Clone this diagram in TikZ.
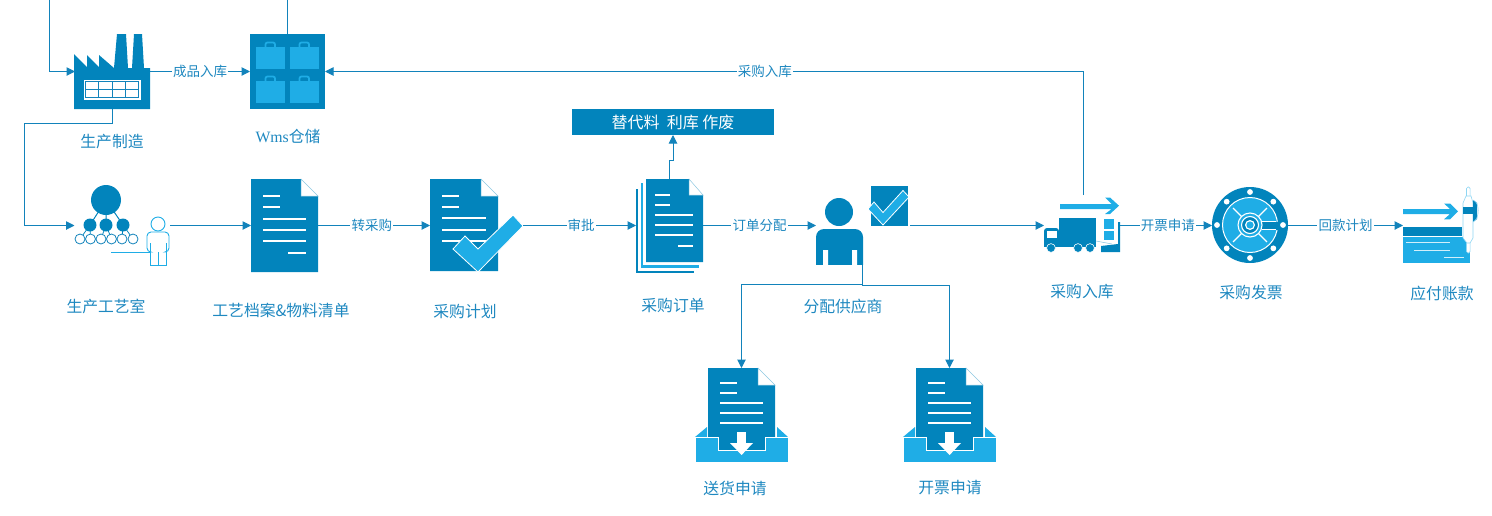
\documentclass[tikz,border=0pt]{standalone}
\usepackage{fontspec}
\setmainfont{Noto Sans CJK SC}
\newfontfamily\wmsfont{Liberation Serif}
\usetikzlibrary{arrows.meta}
\definecolor{dk}{HTML}{0284BC}
\definecolor{lt}{HTML}{1FADE6}
\definecolor{ln}{HTML}{1283BB}
\definecolor{tx}{HTML}{1E88C0}
\tikzset{
  x=1pt,y=-1pt,
  conn/.style={draw=ln,line width=1pt,-{Triangle[length=8.5pt,width=8.5pt]}},
  plainline/.style={draw=ln,line width=1pt},
  anchorbox/.style={inner sep=0pt,outer sep=0pt,minimum width=#1},
  captext/.style={text=tx,font=\fontsize{15.8}{18}\selectfont,inner sep=0pt},
  elab/.style={text=tx,font=\fontsize{13.5}{15}\selectfont,fill=white,inner sep=1.2pt},
  wl/.style={draw=white,line width=1.6pt},
  chk/.style={fill=lt,draw=white,line width=.8pt,line join=miter}
}
\newcommand{\sheet}[6]{
  \fill[dk] (#1,#2) -- (#5,#2) -- (#5,#6) -- (#3,#6) -- (#3,#4) -- (#1,#4) -- cycle;
  \draw[draw=dk!45,line width=.5pt,fill=white] (#5,#2) -- (#3,#6) -- (#5,#6) -- cycle;
}
\newcommand{\inbox}[1]{
\begin{scope}[xshift=#1pt]
  \fill[lt] (695,437) -- (707,427) -- (707,437) -- cycle;
  \fill[lt] (777,427) -- (788,437) -- (777,437) -- cycle;
  \fill[dk] (708,368) -- (758,368) -- (758,385) -- (775,385) -- (775,437) -- (708,437) -- cycle;
  \draw[draw=dk!45,line width=.5pt,fill=white] (758,368) -- (775,385) -- (758,385) -- cycle;
  \foreach \y/\a/\b in {383/720/737,393/720/737,403/720/763,413/720/763,423/720/763}
    \draw[wl] (\a,\y) -- (\b,\y);
  \fill[dk] (718,436) rectangle (765,450);
  \path[fill=lt,draw=white,line width=.7pt] (695,437) -- (718,437) -- (718,450) -- (765,450) -- (765,437) -- (788,437) -- (788,462) -- (695,462) -- cycle;
  \fill[white] (737,432) rectangle (746,443);
  \fill[white] (730,443) -- (753,443) -- (741.6,455) -- cycle;
\end{scope}
}
\begin{document}
\begin{tikzpicture}
\useasboundingbox (0,0) rectangle (1492,515);

% ---------- named nodes
\node[anchorbox=75,minimum height=75] (factory) at (112.5,71.5) {};
\node[anchorbox=75,minimum height=75,fill=dk] (wms) at (287.5,71.5) {};
\node[anchorbox=95,minimum height=40] (org) at (122,225.5) {};
\node[anchorbox=67,minimum height=93] (doc1) at (284.5,225.5) {};
\node[anchorbox=93,minimum height=92] (doc2) at (476.5,225.5) {};
\node[anchorbox=67,minimum height=94] (doc3) at (669.5,225.5) {};
\node[anchorbox=202,minimum height=26,fill=dk,text=white,font=\fontsize{16}{18}\selectfont] (sub) at (673,122) {替代料 \ 利库 作废};
\node[anchorbox=47,minimum height=53] (man) at (839.5,225.5) {};
\node[anchorbox=40,minimum height=40] (mark) at (889.5,206) {};
\node[anchorbox=76,minimum height=48] (truck) at (1082,225.5) {};
\node[anchorbox=76,minimum height=76,circle] (safe) at (1250,225.5) {};
\node[anchorbox=68,minimum height=60] (pay) at (1437,225.5) {};
\coordinate (topL) at (49.5,0);
\coordinate (topR) at (287.5,0);
\coordinate (wmsTop) at (287.5,34);
\coordinate (tup) at (1083.5,195);
\coordinate (tel) at (1083.5,71.5);
\coordinate (e1) at (112.5,123.5);
\coordinate (e2) at (24.5,123.5);
\coordinate (e3) at (24.5,225.5);
\coordinate (pers) at (170,225.5);
\coordinate (mk) at (910,225.5);
\coordinate (up1) at (669.5,179);
\coordinate (up2) at (669.5,160);
\coordinate (up3) at (673,160);
\coordinate (mb) at (862.5,265);
\coordinate (mj) at (862.5,284.5);
\coordinate (mjr) at (862.5,285.5);
\coordinate (elA) at (741.5,284.5);
\coordinate (elB) at (949.5,285.5);
\coordinate (inA) at (741.5,368);
\coordinate (inB) at (949.5,368);

% ---------- factory
\fill[dk] (74,54) -- (87,67) -- (87,55) -- (99,67) -- (99,55) -- (114,68) -- (117,34) -- (126,34) -- (128,68) -- (132,68) -- (134,34) -- (142,34) -- (144,68) -- (150,68) -- (150,109) -- (74,109) -- cycle;
\draw[draw=white,fill=white] (84,80) rectangle (140,99);
\draw[ln,line width=.8pt] (85.5,81.5) rectangle (138.5,97.5);
\draw[ln,line width=.8pt] (85.5,89.5) -- (138.5,89.5) (98.7,81.5) -- (98.7,97.5) (112,81.5) -- (112,97.5) (125.3,81.5) -- (125.3,97.5);

% ---------- wms
\foreach \x/\y in {256/47,290/47,256/81,290/81}{
  \fill[lt] (\x,\y) rectangle ++(28.5,22);
  \draw[lt,line width=1.8pt,rounded corners=2pt] (\x+9.5,\y) -- (\x+9.5,\y-4.5) -- (\x+19,\y-4.5) -- (\x+19,\y);
}

% ---------- org / person
\fill[dk] (106,200) circle (15pt);
\draw[dk,line width=1pt] (106,200) -- (90,225) (106,200) -- (106,225) (106,200) -- (123,225);
\foreach \x in {90,106,123}\fill[dk] (\x,225) circle (6.5pt);
\draw[dk,line width=.8pt] (90,225) -- (80,239) (90,225) -- (90.5,239) (106,225) -- (101,239) (106,225) -- (111.5,239) (123,225) -- (122,239) (123,225) -- (133,239);
\foreach \x in {80,90.5,101,111.5,122,133}\draw[ln,line width=.8pt,fill=white] (\x,239) circle (5pt);
\draw[lt,line width=.9pt] (158,224) circle (7pt);
\draw[lt,line width=.9pt,rounded corners=4pt] (150,252) -- (147,252) -- (147,232) -- (169,232) -- (169,252) -- (166,252);
\draw[lt,line width=.9pt] (150,243) -- (150,265) -- (166,265) -- (166,243);
\draw[lt,line width=.9pt] (158,252) -- (158,265);
\draw[lt,line width=.9pt] (111,252) -- (150,252);

% ---------- doc 1
\sheet{251}{179}{318}{272}{301}{196}
\foreach \y/\a/\b in {196/263/280,207/263/280,219/263/306,230/263/306,241/263/306,253/288/306}
  \draw[wl] (\a,\y) -- (\b,\y);

% ---------- doc 2
\sheet{430}{179}{498}{271}{481}{196}
\foreach \y/\a/\b in {196/442/459,207/442/459,218/442/486,230/442/486,241/442/486}
  \draw[wl] (\a,\y) -- (\b,\y);
\path[chk] (453,249) -- (465,236) -- (478,249) -- (513,215) -- (523,226) -- (478,272) -- cycle;

% ---------- doc stack
\fill[dk] (636,189) rectangle (694,273);
\fill[white] (638,187) rectangle (696,270.5);
\fill[lt] (641,183) rectangle (699,268);
\fill[white] (643,181) rectangle (701,265);
\sheet{646}{179}{703}{262}{689}{195}
\foreach \y/\a/\b in {195/655/670,205/655/670,215/655/693,225/655/693,235/655/693,246/678/693}
  \draw[wl] (\a,\y) -- (\b,\y);

% ---------- man + check
\fill[dk] (839,212) circle (14pt);
\fill[dk,rounded corners=8pt] (816,275) -- (816,229) -- (863,229) -- (863,275) -- cycle;
\fill[white] (815,265) rectangle (864,276);
\fill[white] (823,250) rectangle (828,266) (852,250) rectangle (857,266);
\fill[dk] (871,186) rectangle (908,226);
\path[chk] (868,209) -- (874,202) -- (883,212.5) -- (903,190.5) -- (909,197) -- (883,225) -- cycle;

% ---------- truck
\fill[lt] (1060,204) -- (1111.7,204) -- (1105,197.5) -- (1110,197.5) -- (1119,205.7) -- (1110,214) -- (1105,214) -- (1111.7,209) -- (1060,209) -- cycle;
\fill[dk] (1059,218) rectangle (1096,246);
\fill[dk,rounded corners=3pt] (1044,247) -- (1044,228) -- (1059,228) -- (1059,247) -- cycle;
\fill[white] (1047,231) rectangle (1057,238);
\fill[dk] (1044,240) rectangle (1096,247);
\foreach \x in {1051,1078,1090}\draw[fill=dk,draw=white,line width=.6pt] (\x,248) circle (4.4pt);
\fill[lt] (1104,219) rectangle (1114,229);
\fill[lt] (1104,231) rectangle (1114,240);
\fill[dk] (1101,252) -- (1101,246) -- (1118,244) -- (1118,222) -- (1120,222) -- (1120,252) -- cycle;
\draw[dk!50,line width=.5pt] (1096,241) -- (1112,244);

% ---------- safe
\fill[dk] (1250,225) circle (38pt);
\foreach \a in {0,45,...,315}\fill[white] (1250,225)++(\a:33pt) circle (2.9pt);
\draw[white,fill=lt,line width=1pt] (1250,225) circle (27.5pt);
\foreach \a in {45,135,225,315}\draw[white,line width=1.1pt] (1250,225)++(\a:11pt) -- ++(\a:13pt);
\fill[dk] (1262,221.5) rectangle (1280,229.5);
\draw[white,line width=.9pt] (1262,221.5) -- (1276,221.5) (1262,229.5) -- (1276,229.5);
\draw[white,fill=lt,line width=1.1pt] (1250,225) circle (12pt);
\draw[white,line width=1.1pt,fill=dk] (1250,225) circle (8.5pt);
\fill[white] (1250,225) circle (5pt);
\fill[lt] (1250,225) circle (3.6pt);

% ---------- payable
\fill[lt] (1403,209) -- (1450,209) -- (1444,203.5) -- (1450,203.5) -- (1458,211.3) -- (1450,219.3) -- (1444,219.3) -- (1450,214) -- (1403,214) -- cycle;
\fill[dk] (1403,227) rectangle (1462,236);
\fill[lt] (1403,237) rectangle (1470,263);
\draw[white!80!lt,line width=.8pt] (1406,242) -- (1450,242) (1414,250) -- (1450,250) (1444,257) -- (1464,257);
\draw[lt!50,line width=.6pt,fill=white,rounded corners=1.5pt] (1466.5,196) -- (1466.5,187) -- (1470.1,187) -- (1470.1,196);
\draw[lt!50,line width=.6pt,fill=white,rounded corners=1.5pt] (1466.5,243) -- (1466.5,253) -- (1470.1,253) -- (1470.1,243);
\draw[lt!50,line width=.6pt,fill=white] (1463,203) -- (1466,196) -- (1471,196) -- (1473,203) -- (1473,238) -- (1470,243) -- (1467,243) -- (1463,238) -- cycle;
\fill[dk] (1463,207) rectangle (1473,214);
\fill[dk] (1473,200) -- (1477,203) -- (1477,219) -- (1473,222) -- cycle;
\draw[lt!50,line width=.5pt] (1473,200) .. controls (1480,202) and (1480,219) .. (1473,222);

% ---------- inboxes
\inbox{0}
\inbox{208}

% ---------- connectors
\draw[conn] (topL) |- (factory.west);
\draw[plainline] (topR) -- (wmsTop);
\draw[conn] (factory.east) -- node[elab]{成品入库} (wms.west);
\draw[conn] (tup) -- (tel) -- node[elab,pos=.42]{采购入库} (wms.east);
\draw[conn] (factory.south) -- (e1) -- (e2) -- (e3) -- (org.west);
\draw[conn] (pers) -- (doc1.west);
\draw[conn] (doc1.east) -- node[elab,pos=.48]{转采购} (doc2.west);
\draw[conn] (doc2.east) -- node[elab,pos=.515]{审批} (doc3.west);
\draw[conn] (doc3.east) -- node[elab,pos=.5]{订单分配} (man.west);
\draw[conn] (up1) -- (up2) -- (up3) -- (sub.south);
\draw[conn] (mk) -- (truck.west);
\draw[conn] (truck.east) -- node[elab,pos=.52]{开票申请} (safe.west);
\draw[conn] (safe.east) -- node[elab,pos=.5]{回款计划} (pay.west);
\draw[plainline] (mb) -- (mjr);
\draw[conn] (mj) -- (elA) -- (inA);
\draw[conn] (mjr) -- (elB) -- (inB);

% ---------- captions
\node[captext] (c1) at (112,142) {生产制造};
\node[captext] (c2) at (288,136) {{\wmsfont Wms}仓储};
\node[captext] (c3) at (106,306) {生产工艺室};
\node[captext] (c4) at (281,310) {工艺档案\&物料清单};
\node[captext] (c5) at (465,311) {采购计划};
\node[captext] (c6) at (673,305) {采购订单};
\node[captext] (c7) at (843,306) {分配供应商};
\node[captext] (c8) at (1082,292) {采购入库};
\node[captext] (c9) at (1251,292) {采购发票};
\node[captext] (c10) at (1442,293) {应付账款};
\node[captext] (c11) at (735,488) {送货申请};
\node[captext] (c12) at (950,488) {开票申请};
\end{tikzpicture}
\end{document}
